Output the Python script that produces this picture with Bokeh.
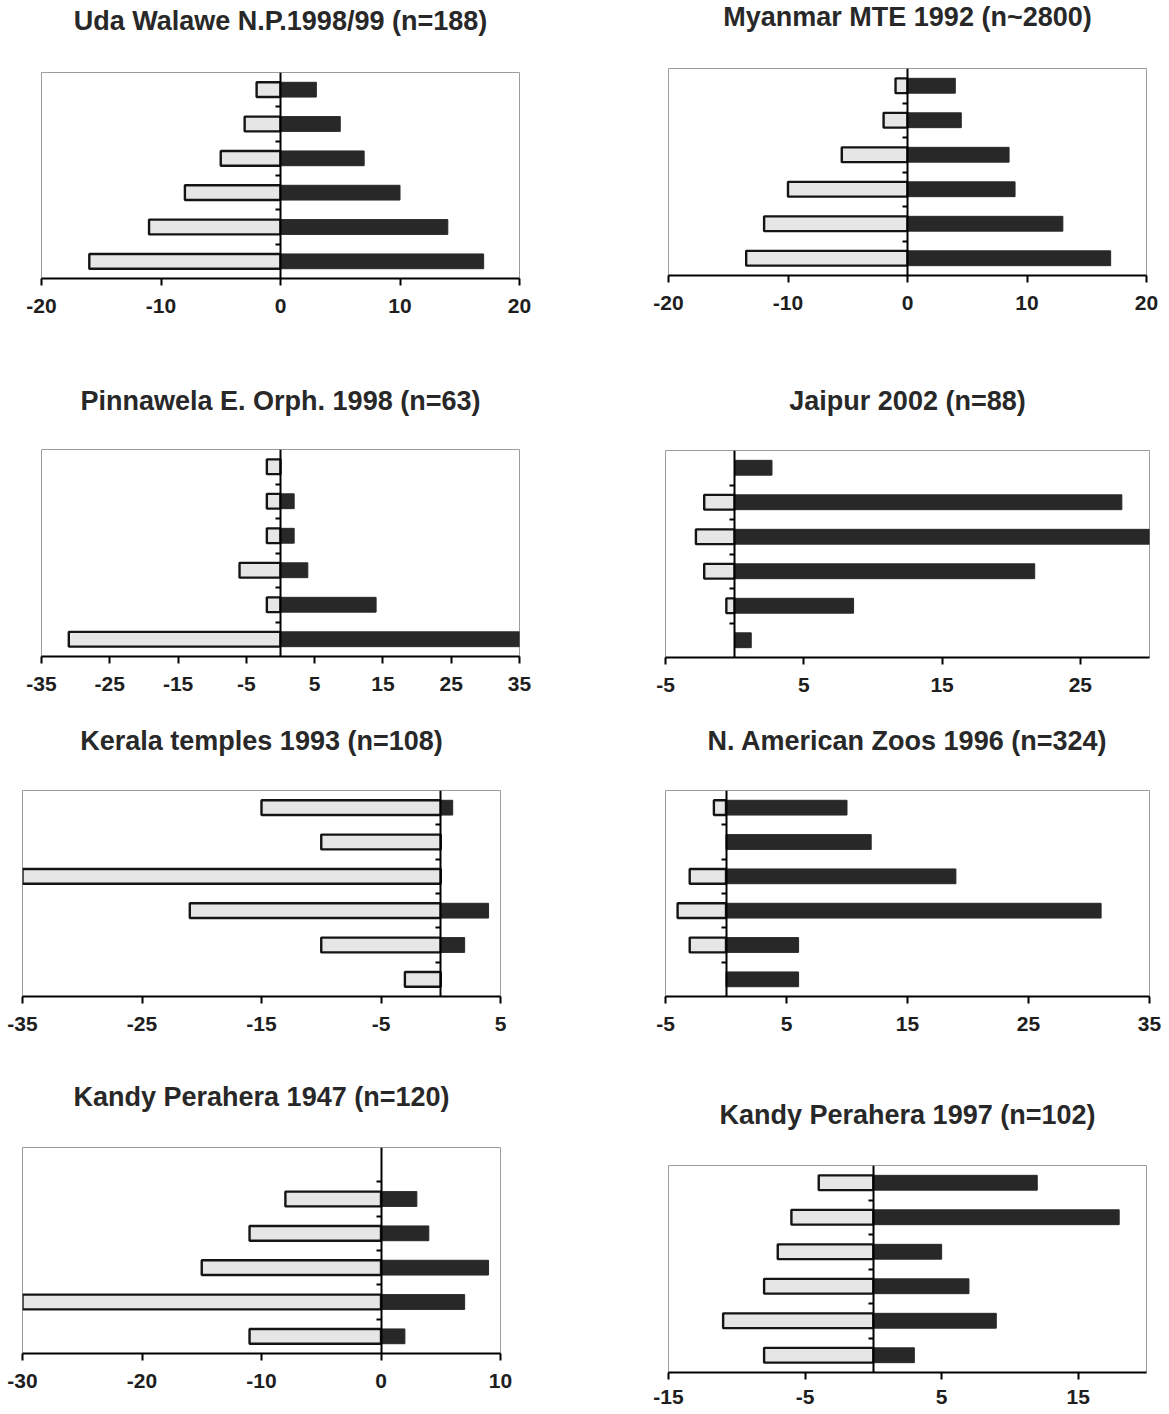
from bokeh.plotting import figure
from bokeh.layouts import column, row
from bokeh.models import Range1d, FixedTicker
from bokeh.core.properties import value
from bokeh.embed import file_html
from bokeh.resources import INLINE

# ---------------- data ----------------
titles = [
    "Uda Walawe N.P.1998/99 (n=188)",
    "Myanmar MTE 1992 (n~2800)",
    "Pinnawela E. Orph. 1998 (n=63)",
    "Jaipur 2002 (n=88)",
    "Kerala temples 1993 (n=108)",
    "N. American Zoos 1996 (n=324)",
    "Kandy Perahera 1947 (n=120)",
    "Kandy Perahera 1997 (n=102)",
]

# six classes per panel, listed top to bottom; left = light bars, right = dark bars
uda_left = [-2, -3, -5, -8, -11, -16]
uda_right = [3, 5, 7, 10, 14, 17]

myanmar_left = [-1, -2, -5.5, -10, -12, -13.5]
myanmar_right = [4, 4.5, 8.5, 9, 13, 17]

pinnawela_left = [-2, -2, -2, -6, -2, -31]
pinnawela_right = [0, 2, 2, 4, 14, 36]

jaipur_left = [0, -2.2, -2.8, -2.2, -0.6, 0]
jaipur_right = [2.7, 28, 31, 21.7, 8.6, 1.2]

kerala_left = [-15, -10, -35, -21, -10, -3]
kerala_right = [1, 0, 0, 4, 2, 0]

zoos_left = [-1, 0, -3, -4, -3, 0]
zoos_right = [10, 12, 19, 31, 6, 6]

kandy47_left = [0, -8, -11, -15, -30, -11]
kandy47_right = [0, 3, 4, 9, 7, 2]

kandy97_left = [-4, -6, -7, -8, -11, -8]
kandy97_right = [12, 18, 5, 7, 9, 3]

x_limits = [(-20, 20), (-20, 20), (-35, 35), (-5, 30),
            (-35, 5), (-5, 35), (-30, 10), (-15, 20)]
x_ticks = [
    [-20, -10, 0, 10, 20],
    [-20, -10, 0, 10, 20],
    [-35, -25, -15, -5, 5, 15, 25, 35],
    [-5, 5, 15, 25],
    [-35, -25, -15, -5, 5],
    [-5, 5, 15, 25, 35],
    [-30, -20, -10, 0, 10],
    [-15, -5, 5, 15],
]

lefts = [uda_left, myanmar_left, pinnawela_left, jaipur_left,
         kerala_left, zoos_left, kandy47_left, kandy97_left]
rights = [uda_right, myanmar_right, pinnawela_right, jaipur_right,
          kerala_right, zoos_right, kandy47_right, kandy97_right]

# ---------------- layout (pixels) ----------------
# (width, title height, title centre, plot height, border left, right, top, bottom, label standoff)
geoms = [
    (580, 68, 20.0, 292, 41, 61, 4, 82, 13),
    (589, 64, 16.7, 296, 88, 23, 4, 85, 13),
    (580, 85, 40.7, 267, 41, 61, 4, 56, 13),
    (589, 86, 40.8, 266, 85, 20, 4, 55, 13),
    (580, 74, 28.8, 276, 22, 80, 4, 66, 13),
    (589, 74, 28.8, 276, 85, 20, 4, 66, 13),
    (580, 81, 34.5, 270, 22, 80, 4, 60, 13),
    (589, 99, 52.0, 252, 88, 23, 4, 41, 10),
]

FONT = "Liberation Sans"
LIGHT = "#e6e6e6"
DARK = "#282828"
EDGE = "#141414"


def make_title(title, xlim, W, T, c, mbl, mbr):
    t = figure(width=W, height=T, output_backend="svg", toolbar_location=None,
               title=None, x_range=Range1d(*xlim), y_range=Range1d(c - T, c),
               x_axis_location=None, y_axis_location=None,
               min_border_left=mbl, min_border_right=mbr,
               min_border_top=0, min_border_bottom=0)
    t.outline_line_color = None
    t.grid.visible = False
    t.text(x=[(xlim[0] + xlim[1]) / 2], y=[0], text=[title],
           text_align="center", text_baseline="middle",
           text_font=value(FONT), text_font_style="bold",
           text_font_size="27px", text_color="#282828")
    return t


def make_panel(title, lv, rv, xlim, ticks, geom):
    W, T, c, H, mbl, mbr, mbt, mbb, lstand = geom
    n = len(lv)
    p = figure(width=W, height=H, output_backend="svg", toolbar_location=None,
               title=None, x_range=Range1d(*xlim), y_range=Range1d(n - 0.5, -0.5),
               min_border_left=mbl, min_border_right=mbr,
               min_border_top=mbt, min_border_bottom=mbb)
    p.xgrid.visible = False
    p.ygrid.visible = False
    p.outline_line_color = "#9c9c9c"
    p.outline_line_width = 1

    ys = list(range(n))
    ly = [y for y, v in zip(ys, lv) if v != 0]
    lvals = [v for v in lv if v != 0]
    ry = [y for y, v in zip(ys, rv) if v != 0]
    rvals = [v for v in rv if v != 0]
    p.hbar(y=ly, left=lvals, right=0, height=0.43,
           fill_color=LIGHT, line_color=EDGE, line_width=2.4)
    p.hbar(y=ry, left=0, right=rvals, height=0.43,
           fill_color=DARK, line_color=DARK, line_width=1)

    # x axis
    xa = p.xaxis[0]
    xa.ticker = FixedTicker(ticks=ticks)
    xa.major_label_overrides = {t: str(t) for t in ticks}
    xa.axis_line_color = "black"
    xa.axis_line_width = 2
    xa.major_tick_line_color = "black"
    xa.major_tick_line_width = 2
    xa.major_tick_out = 7
    xa.major_tick_in = 0
    xa.minor_tick_line_color = None
    xa.major_label_text_font = FONT
    xa.major_label_text_font_style = "bold"
    xa.major_label_text_font_size = "21px"
    xa.major_label_text_color = "#1e1e1e"
    xa.major_label_standoff = lstand

    # y axis pinned at zero, ticks at class boundaries
    ya = p.yaxis[0]
    ya.fixed_location = 0
    ya.ticker = FixedTicker(ticks=[i + 0.5 for i in range(n - 1)])
    ya.axis_line_color = "black"
    ya.axis_line_width = 2
    ya.major_tick_line_color = "black"
    ya.major_tick_line_width = 2
    ya.major_tick_out = 5
    ya.major_tick_in = 0
    ya.minor_tick_line_color = None
    ya.major_label_standoff = 0
    ya.major_label_text_font_size = "1px"
    ya.major_label_overrides = {i + 0.5: "" for i in range(n - 1)}

    tfig = make_title(title, xlim, W, T, c, mbl, mbr)
    return column(tfig, p)


panels = [make_panel(titles[i], lefts[i], rights[i], x_limits[i], x_ticks[i], geoms[i])
          for i in range(8)]

layout = column(row(panels[0], panels[1]), row(panels[2], panels[3]),
                row(panels[4], panels[5]), row(panels[6], panels[7]))

open("out.html", "w").write(file_html(layout, INLINE))
